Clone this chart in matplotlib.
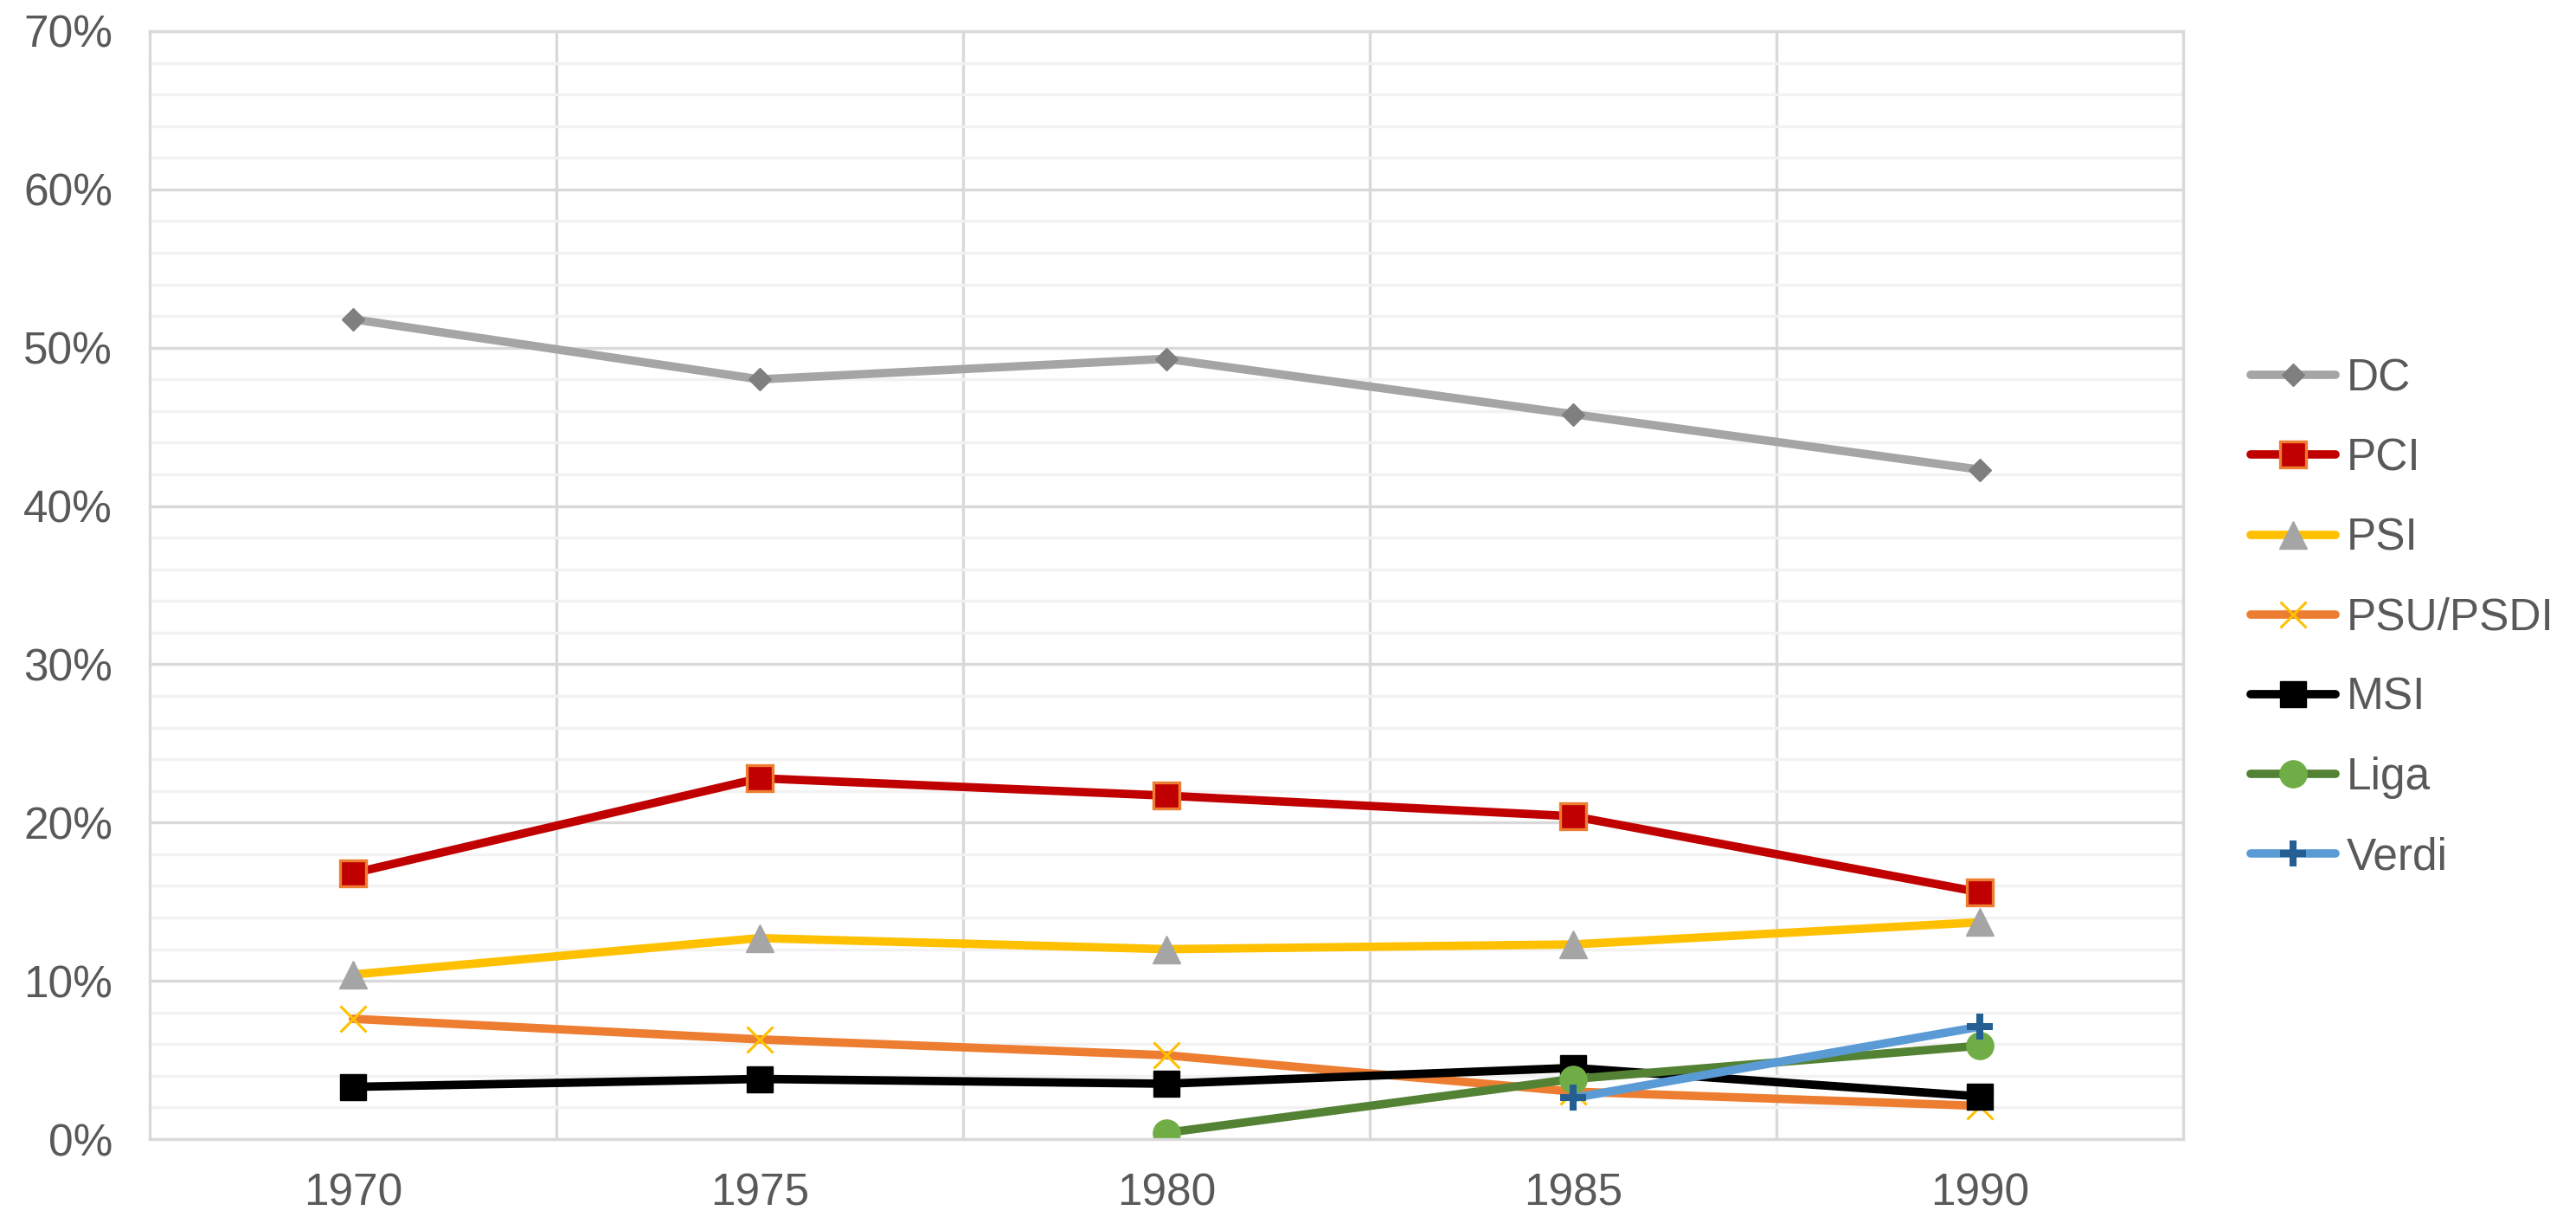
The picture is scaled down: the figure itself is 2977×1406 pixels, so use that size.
import numpy as np
import matplotlib
matplotlib.use('Agg')
import matplotlib.pyplot as plt
from matplotlib.ticker import MultipleLocator, FixedLocator, FuncFormatter

plt.rcParams['font.family'] = ['Liberation Sans', 'DejaVu Sans']

# Dati (percentuali)
years = ['1970', '1975', '1980', '1985', '1990']
dc = [51.8, 48.0, 49.3, 45.8, 42.3]
pci = [16.8, 22.8, 21.7, 20.4, 15.6]
psi = [10.4, 12.7, 12.0, 12.3, 13.7]
psu = [7.6, 6.3, 5.3, 3.0, 2.1]
msi = [3.3, 3.8, 3.5, 4.5, 2.7]
liga = [np.nan, np.nan, 0.4, 3.8, 5.9]
verdi = [np.nan, np.nan, np.nan, 2.6, 7.1]

text_col = '#595959'
grid_major = '#d9d9d9'
grid_minor = '#f2f2f2'
lw = 7

fig = plt.figure(figsize=(29.77, 14.06), dpi=100)
ax = fig.add_axes([0.0581, 0.064, 0.7894, 0.9104])

x = np.arange(len(years))

ax.plot(x, dc, color='#a5a5a5', lw=lw, solid_capstyle='round',
        marker='D', ms=13.5, mfc='#7f7f7f', mec='#7f7f7f', mew=1, label='DC')
ax.plot(x, pci, color='#c00000', lw=lw, solid_capstyle='round',
        marker='s', ms=21.5, mfc='#c00000', mec='#ed7d31', mew=2.4, label='PCI')
ax.plot(x, psi, color='#ffc000', lw=lw, solid_capstyle='round',
        marker='^', ms=23, mfc='#a5a5a5', mec='#a5a5a5', mew=1, label='PSI')
ax.plot(x, psu, color='#ed7d31', lw=lw, solid_capstyle='round',
        marker='x', ms=22, mec='#ffc000', mew=2.2, label='PSU/PSDI')
ax.plot(x, msi, color='#000000', lw=lw, solid_capstyle='round',
        marker='s', ms=22, mfc='#000000', mec='#000000', mew=1, label='MSI')
ax.plot(x, liga, color='#548235', lw=lw, solid_capstyle='round',
        marker='o', ms=22.5, mfc='#70ad47', mec='#70ad47', mew=1, label='Liga')
ax.plot(x, verdi, color='#5b9bd5', lw=lw, solid_capstyle='round',
        marker='+', ms=22, mec='#255e91', mew=5.8, label='Verdi')

ax.set_xlim(-0.5, len(years) - 0.5)
ax.set_ylim(0, 70)
ax.set_xticks(x)
ax.set_xticklabels(years)
ax.xaxis.set_minor_locator(FixedLocator(np.arange(len(years) - 1) + 0.5))
ax.yaxis.set_major_locator(MultipleLocator(10))
ax.yaxis.set_minor_locator(MultipleLocator(2))
ax.yaxis.set_major_formatter(FuncFormatter(lambda v, p: f'{v:.0f}%'))

ax.set_axisbelow(True)
ax.grid(which='major', axis='y', color=grid_major, lw=2.4)
ax.grid(which='minor', axis='y', color=grid_minor, lw=2.4)
ax.grid(which='minor', axis='x', color=grid_major, lw=2.4)
ax.grid(which='major', axis='x', visible=False)

for s in ax.spines.values():
    s.set_color(grid_major)
    s.set_linewidth(2.4)

ax.tick_params(which='both', length=0, labelsize=37, labelcolor=text_col)
ax.tick_params(axis='y', pad=31)
ax.tick_params(axis='x', pad=28)
for lab in ax.get_xticklabels():
    lab.set_x(lab.get_position()[0])

fig.legend(*ax.get_legend_handles_labels(), loc='center left',
           bbox_to_anchor=(0.8737, 0.492), frameon=False, fontsize=37,
           labelcolor=text_col, handlelength=1.9, handletextpad=0.25,
           labelspacing=0.84, borderpad=0, borderaxespad=0)

fig.savefig('out.png', dpi=100)
